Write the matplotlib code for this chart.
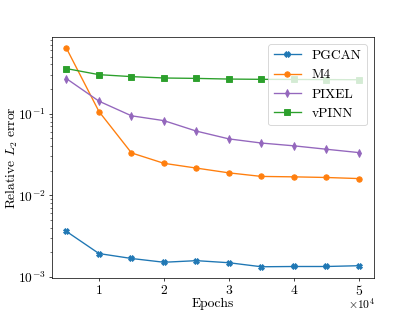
import matplotlib
matplotlib.use("Agg")
import matplotlib.pyplot as plt

plt.rcParams["font.family"] = "serif"
plt.rcParams["font.serif"] = ["cmr10"]
plt.rcParams["font.size"] = 15
plt.rcParams["mathtext.fontset"] = "cm"
plt.rcParams["axes.formatter.use_mathtext"] = True
plt.rcParams["axes.unicode_minus"] = False

epochs = [5000, 10000, 15000, 20000, 25000, 30000, 35000, 40000, 45000, 50000]

pgcan = [3.6e-3, 1.93e-3, 1.68e-3, 1.51e-3, 1.58e-3, 1.49e-3, 1.33e-3, 1.34e-3, 1.34e-3, 1.37e-3]
m4 = [0.63, 0.106, 0.033, 0.0246, 0.0215, 0.0188, 0.017, 0.0168, 0.0165, 0.016]
pixel = [0.268, 0.142, 0.094, 0.082, 0.061, 0.049, 0.0436, 0.0403, 0.0366, 0.0333]
vpinn = [0.356, 0.30, 0.284, 0.273, 0.27, 0.265, 0.263, 0.262, 0.261, 0.26]

fig, ax = plt.subplots(figsize=(415 / 65, 312 / 65), dpi=65)
ax.plot(epochs, pgcan, marker="X", markersize=6, label="PGCAN")
ax.plot(epochs, m4, marker="o", markersize=6, label="M4")
ax.plot(epochs, pixel, color="tab:purple", marker="d", markersize=6, label="PIXEL")
ax.plot(epochs, vpinn, color="tab:green", marker="s", markersize=6, label="vPINN")
ax.set_yscale("log")
ax.ticklabel_format(axis="x", style="sci", scilimits=(0, 0))
# offset text sits too low by default, draw it by hand
ax.xaxis.get_offset_text().set_visible(False)
ax.annotate(r"$\times10^{4}$", xy=(1, 0), xycoords="axes fraction",
            xytext=(2, -20.5), textcoords="offset points",
            ha="right", va="top", fontsize=13)
ax.set_xlabel("Epochs", labelpad=0)
ax.set_ylabel(r"Relative $L_2$ error")
ax.yaxis.set_label_coords(-0.10, 0.5)
ax.legend(loc="upper right")
fig.savefig("out.png")
plt.close(fig)
